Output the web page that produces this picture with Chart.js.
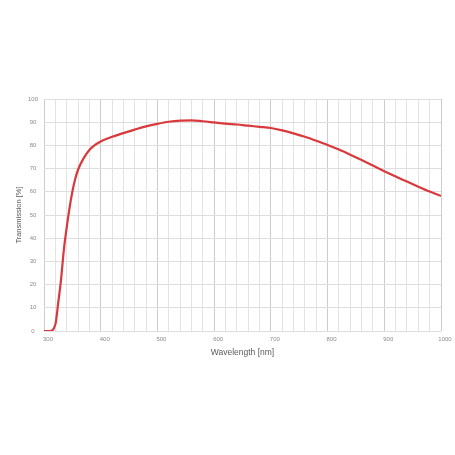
<!DOCTYPE html>
<html>
<head>
<meta charset="utf-8">
<script src="https://cdn.jsdelivr.net/npm/chart.js@4.4.1/dist/chart.umd.min.js"></script>
<style>
html,body{margin:0;padding:0;background:#fff;}
#wrap{width:455px;height:455px;position:relative;}
</style>
</head>
<body>
<div id="wrap"><canvas id="c" width="455" height="455"></canvas></div>
<script>
const wavelengths = [300,310,320,325,330,335,340,345,350,355,360,370,380,390,400,420,440,460,480,500,520,540,560,580,600,620,640,660,680,700,720,740,760,780,800,820,840,860,880,900,920,940,960,980,1000];
const transmission = [0,0,2.8,12,22,35,44.5,53,60,65.5,69.5,74.5,78,80.2,81.7,83.7,85.3,86.8,88.2,89.3,90.2,90.7,90.8,90.4,89.9,89.4,89,88.5,88,87.5,86.5,85.2,83.7,82,80.2,78.2,76,73.7,71.3,68.9,66.6,64.4,62.2,60.1,58.2];
const xTitle = 'Wavelength [nm]';
const yTitle = 'Transmission [%]';

const points = wavelengths.map((w,i)=>({x:w,y:transmission[i]}));
const FONT = '"Liberation Sans", Arial, sans-serif';

new Chart(document.getElementById('c'), {
  type: 'line',
  data: { datasets: [{
    data: points,
    borderColor: '#d9383c',
    borderWidth: 2.2,
    pointRadius: 0,
    cubicInterpolationMode: 'monotone',
    fill: false
  }]},
  options: {
    responsive: false,
    animation: false,
    layout: { padding: { left: 0, right: 14, top: 99, bottom: 94 } },
    plugins: { legend: { display: false }, tooltip: { enabled: false } },
    scales: {
      x: {
        type: 'linear', min: 300, max: 1000,
        afterFit: s => { s.height = 30; },
        border: { display: false },
        grid: {
          drawTicks: false,
          color: c => (c.tick && c.tick.value % 100 === 0) ? '#cccccc' : '#e3e3e3',
          lineWidth: 1
        },
        ticks: {
          stepSize: 20, autoSkip: false, maxRotation: 0, padding: 5, labelOffset: 4,
          color: '#8a8a8a', font: { family: FONT, size: 6 },
          callback: v => (v % 100 === 0 ? String(v) : '')
        },
        title: { display: true, text: xTitle, color: '#5a5a5a', font: { family: FONT, size: 8.5 }, padding: { top: 3, bottom: 3 } }
      },
      y: {
        min: 0, max: 100,
        afterFit: s => { s.width = 44; },
        border: { display: false },
        grid: { drawTicks: false, color: '#dedede', lineWidth: 1 },
        ticks: {
          stepSize: 10, padding: 6, crossAlign: 'center',
          color: '#8a8a8a', font: { family: FONT, size: 6 }
        },
        title: { display: true, text: yTitle, color: '#5a5a5a', font: { family: FONT, size: 7.5 }, padding: { top: 14.5, bottom: 0 } }
      }
    }
  }
});
</script>
</body>
</html>
